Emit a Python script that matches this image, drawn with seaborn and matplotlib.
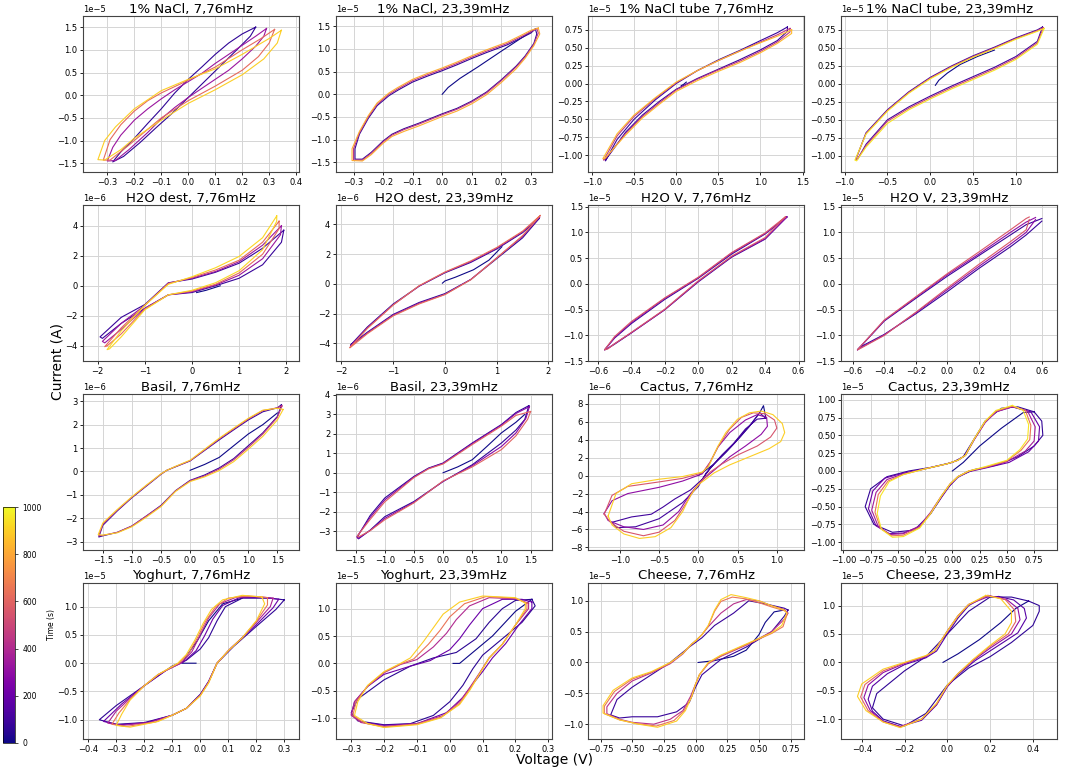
import numpy as np
import pandas as pd
import matplotlib
matplotlib.use("Agg")
import matplotlib.pyplot as plt
import seaborn as sns
from matplotlib.colors import Normalize

# ---------------------------------------------------------------
# Data: one closed loop per listed cycle.
# Current values are in the unit shown by the offset text (1e-5 / 1e-6 A).
# ---------------------------------------------------------------

# 1% NaCl, 7,76mHz
nacl_slow_t = [60, 330, 620, 900]
nacl_slow_v = [
    [0.25, 0.2, 0.15, 0.1, 0.05, 0.0, -0.05, -0.1, -0.15, -0.2, -0.25, -0.28, -0.24, -0.18, -0.12, -0.06, 0.0, 0.06, 0.12, 0.18, 0.23, 0.25],
    [0.29, 0.25, 0.2, 0.15, 0.1, 0.05, 0.0, -0.05, -0.1, -0.15, -0.2, -0.25, -0.28, -0.3, -0.27, -0.22, -0.15, -0.1, -0.05, 0.0, 0.05, 0.1, 0.15, 0.2, 0.25, 0.28, 0.29],
    [0.32, 0.27, 0.2, 0.1, 0.0, -0.1, -0.15, -0.2, -0.25, -0.29, -0.315, -0.29, -0.22, -0.15, -0.1, 0.0, 0.1, 0.2, 0.26, 0.3, 0.32],
    [0.345, 0.3, 0.2, 0.1, 0.0, -0.1, -0.2, -0.27, -0.31, -0.335, -0.31, -0.25, -0.2, -0.1, 0.0, 0.1, 0.2, 0.28, 0.33, 0.345],
]
nacl_slow_i = [
    [1.5, 1.35, 1.15, 0.9, 0.62, 0.35, 0.05, -0.3, -0.62, -0.95, -1.25, -1.47, -1.35, -1.05, -0.72, -0.4, -0.05, 0.3, 0.65, 1.0, 1.3, 1.5],
    [1.47, 1.3, 1.1, 0.9, 0.7, 0.48, 0.3, 0.12, -0.08, -0.3, -0.55, -0.88, -1.15, -1.45, -1.44, -1.2, -0.82, -0.52, -0.27, -0.05, 0.15, 0.35, 0.55, 0.8, 1.08, 1.3, 1.47],
    [1.45, 1.25, 1.0, 0.62, 0.33, 0.05, -0.12, -0.35, -0.65, -0.98, -1.43, -1.43, -1.1, -0.75, -0.5, -0.12, 0.2, 0.55, 0.85, 1.15, 1.45],
    [1.43, 1.25, 0.9, 0.58, 0.35, 0.1, -0.3, -0.7, -1.0, -1.42, -1.43, -1.2, -0.95, -0.55, -0.18, 0.12, 0.45, 0.8, 1.15, 1.43],
]
nacl_slow_ramp_v = []
nacl_slow_ramp_i = []

# 1% NaCl, 23,39mHz
nacl_fast_t = [60, 450, 820]
nacl_fast_v = [
    [0.315, 0.3, 0.27, 0.22, 0.15, 0.1, 0.05, 0.0, -0.05, -0.1, -0.15, -0.18, -0.22, -0.25, -0.28, -0.295, -0.295, -0.27, -0.24, -0.2, -0.17, -0.13, -0.08, 0.0, 0.05, 0.1, 0.15, 0.2, 0.25, 0.28, 0.31, 0.32, 0.315],
    [0.32, 0.3, 0.27, 0.22, 0.15, 0.1, 0.05, 0.0, -0.05, -0.1, -0.15, -0.18, -0.22, -0.25, -0.28, -0.3, -0.3, -0.27, -0.24, -0.2, -0.17, -0.13, -0.08, 0.0, 0.05, 0.1, 0.15, 0.2, 0.25, 0.28, 0.31, 0.325, 0.32],
    [0.325, 0.3, 0.27, 0.22, 0.15, 0.1, 0.05, 0.0, -0.05, -0.1, -0.15, -0.18, -0.22, -0.25, -0.28, -0.305, -0.305, -0.27, -0.24, -0.2, -0.17, -0.13, -0.08, 0.0, 0.05, 0.1, 0.15, 0.2, 0.25, 0.28, 0.31, 0.33, 0.325],
]
nacl_fast_i = [
    [1.44, 1.35, 1.25, 1.09, 0.92, 0.79, 0.65, 0.52, 0.4, 0.27, 0.09, -0.03, -0.25, -0.53, -0.88, -1.2, -1.43, -1.43, -1.28, -1.03, -0.88, -0.76, -0.64, -0.43, -0.31, -0.15, 0.05, 0.32, 0.62, 0.84, 1.12, 1.33, 1.44],
    [1.45, 1.38, 1.28, 1.12, 0.95, 0.82, 0.68, 0.55, 0.43, 0.3, 0.12, 0.0, -0.22, -0.5, -0.85, -1.2, -1.45, -1.45, -1.3, -1.05, -0.9, -0.78, -0.66, -0.45, -0.33, -0.17, 0.03, 0.3, 0.6, 0.82, 1.1, 1.35, 1.45],
    [1.46, 1.41, 1.31, 1.15, 0.98, 0.85, 0.71, 0.58, 0.46, 0.33, 0.15, 0.03, -0.19, -0.47, -0.82, -1.2, -1.46, -1.47, -1.33, -1.08, -0.93, -0.82, -0.7, -0.49, -0.37, -0.21, -0.01, 0.26, 0.56, 0.79, 1.07, 1.33, 1.46],
]
nacl_fast_ramp_v = [0.0, 0.02, 0.06, 0.12, 0.2, 0.27, 0.31]
nacl_fast_ramp_i = [0.0, 0.15, 0.35, 0.6, 0.95, 1.25, 1.42]

# 1% NaCl tube 7,76mHz
tube_slow_t = [80, 450, 850]
tube_slow_v = [
    [1.32, 1.2, 1.0, 0.75, 0.5, 0.25, 0.0, -0.25, -0.5, -0.7, -0.84, -0.82, -0.6, -0.4, -0.2, 0.0, 0.25, 0.5, 0.75, 1.0, 1.2, 1.32, 1.32],
    [1.35, 1.2, 1.0, 0.75, 0.5, 0.25, 0.0, -0.25, -0.5, -0.7, -0.86, -0.84, -0.6, -0.4, -0.2, 0.0, 0.25, 0.5, 0.75, 1.0, 1.2, 1.35, 1.35],
    [1.37, 1.2, 1.0, 0.75, 0.5, 0.25, 0.0, -0.25, -0.5, -0.7, -0.87, -0.85, -0.6, -0.4, -0.2, 0.0, 0.25, 0.5, 0.75, 1.0, 1.2, 1.37, 1.37],
]
tube_slow_i = [
    [0.79, 0.71, 0.6, 0.46, 0.33, 0.18, 0.0, -0.23, -0.5, -0.78, -1.08, -1.04, -0.68, -0.44, -0.25, -0.08, 0.07, 0.2, 0.33, 0.47, 0.6, 0.73, 0.79],
    [0.77, 0.68, 0.58, 0.45, 0.32, 0.18, 0.01, -0.21, -0.46, -0.73, -1.07, -1.05, -0.7, -0.46, -0.27, -0.09, 0.06, 0.19, 0.31, 0.45, 0.58, 0.72, 0.77],
    [0.75, 0.66, 0.57, 0.45, 0.32, 0.18, 0.02, -0.2, -0.44, -0.7, -1.05, -1.05, -0.72, -0.48, -0.29, -0.11, 0.04, 0.17, 0.29, 0.43, 0.56, 0.7, 0.75],
]
tube_slow_ramp_v = [0.06, 0.09, 0.12]
tube_slow_ramp_i = [-0.03, -0.01, 0.02]

# 1% NaCl tube, 23,39mHz
tube_fast_t = [100, 500, 950]
tube_fast_v = [
    [1.31, 1.25, 1.0, 0.75, 0.5, 0.25, 0.0, -0.25, -0.5, -0.75, -0.87, -0.85, -0.75, -0.5, -0.25, 0.0, 0.25, 0.5, 0.75, 1.0, 1.25, 1.31],
    [1.32, 1.25, 1.0, 0.75, 0.5, 0.25, 0.0, -0.25, -0.5, -0.75, -0.87, -0.86, -0.75, -0.5, -0.25, 0.0, 0.25, 0.5, 0.75, 1.0, 1.25, 1.32],
    [1.33, 1.25, 1.0, 0.75, 0.5, 0.25, 0.0, -0.25, -0.5, -0.75, -0.88, -0.86, -0.75, -0.5, -0.25, 0.0, 0.25, 0.5, 0.75, 1.0, 1.25, 1.33],
]
tube_fast_i = [
    [0.79, 0.75, 0.64, 0.51, 0.39, 0.25, 0.09, -0.11, -0.36, -0.68, -1.05, -1.05, -0.84, -0.5, -0.32, -0.17, -0.03, 0.1, 0.23, 0.38, 0.59, 0.79],
    [0.78, 0.74, 0.63, 0.5, 0.38, 0.24, 0.08, -0.12, -0.37, -0.69, -1.05, -1.06, -0.86, -0.52, -0.34, -0.19, -0.05, 0.08, 0.21, 0.36, 0.57, 0.78],
    [0.77, 0.73, 0.62, 0.49, 0.37, 0.23, 0.07, -0.13, -0.38, -0.7, -1.06, -1.07, -0.88, -0.55, -0.36, -0.21, -0.07, 0.06, 0.19, 0.34, 0.55, 0.77],
]
tube_fast_ramp_v = [0.06, 0.1, 0.2, 0.35, 0.55, 0.75]
tube_fast_ramp_i = [-0.02, 0.05, 0.15, 0.27, 0.38, 0.47]

# H2O dest, 7,76mHz
dest_slow_t = [80, 330, 620, 920]
dest_slow_v = [
    [1.95, 1.5, 1.0, 0.5, 0.0, -0.5, -1.0, -1.5, -1.95, -1.9, -1.5, -1.0, -0.5, 0.0, 0.5, 1.0, 1.5, 1.9, 1.95],
    [1.9, 1.5, 1.0, 0.5, 0.0, -0.5, -1.0, -1.5, -1.9, -1.85, -1.5, -1.0, -0.5, 0.0, 0.5, 1.0, 1.5, 1.88, 1.9],
    [1.85, 1.5, 1.0, 0.5, 0.0, -0.5, -1.0, -1.5, -1.85, -1.8, -1.5, -1.0, -0.5, 0.0, 0.5, 1.0, 1.5, 1.85, 1.85],
    [1.8, 1.5, 1.0, 0.5, 0.0, -0.5, -1.0, -1.5, -1.8, -1.75, -1.5, -1.0, -0.5, 0.0, 0.5, 1.0, 1.5, 1.8, 1.8],
]
dest_slow_i = [
    [3.7, 2.5, 1.5, 0.9, 0.45, 0.2, -1.25, -2.1, -3.4, -3.5, -2.5, -1.5, -0.6, -0.45, 0.0, 0.5, 1.4, 2.9, 3.7],
    [4.0, 2.7, 1.6, 0.95, 0.5, 0.18, -1.3, -2.5, -3.7, -3.8, -2.9, -1.5, -0.6, -0.4, 0.05, 0.7, 1.8, 3.4, 4.0],
    [4.3, 2.9, 1.7, 1.05, 0.55, 0.15, -1.3, -2.8, -4.05, -4.0, -3.2, -1.55, -0.6, -0.35, 0.1, 0.85, 2.1, 3.8, 4.3],
    [4.65, 3.2, 1.95, 1.2, 0.6, 0.1, -1.3, -3.0, -4.25, -4.2, -3.4, -1.6, -0.6, -0.3, 0.2, 1.0, 2.4, 4.3, 4.65],
]
dest_slow_ramp_v = [0.1, 0.3, 0.6]
dest_slow_ramp_i = [-0.45, -0.3, 0.0]

# H2O dest, 23,39mHz
dest_fast_t = [60, 330, 640]
dest_fast_v = [
    [1.82, 1.5, 1.0, 0.5, 0.0, -0.5, -1.0, -1.5, -1.82, -1.8, -1.5, -1.0, -0.5, 0.0, 0.5, 1.0, 1.5, 1.82],
    [1.83, 1.5, 1.0, 0.5, 0.0, -0.5, -1.0, -1.5, -1.83, -1.81, -1.5, -1.0, -0.5, 0.0, 0.5, 1.0, 1.5, 1.83],
    [1.84, 1.5, 1.0, 0.5, 0.0, -0.5, -1.0, -1.5, -1.84, -1.82, -1.5, -1.0, -0.5, 0.0, 0.5, 1.0, 1.5, 1.84],
]
dest_fast_i = [
    [4.4, 3.45, 2.35, 1.45, 0.75, -0.15, -1.35, -2.9, -4.1, -4.05, -3.25, -2.05, -1.25, -0.65, 0.3, 1.7, 3.1, 4.4],
    [4.5, 3.5, 2.4, 1.5, 0.78, -0.15, -1.4, -2.95, -4.2, -4.15, -3.3, -2.1, -1.3, -0.7, 0.3, 1.75, 3.2, 4.5],
    [4.6, 3.55, 2.45, 1.55, 0.8, -0.12, -1.42, -3.0, -4.3, -4.25, -3.35, -2.15, -1.35, -0.72, 0.28, 1.75, 3.25, 4.6],
]
dest_fast_ramp_v = [-0.05, 0.0, 0.2, 0.55, 0.85, 1.1]
dest_fast_ramp_i = [0.05, 0.2, 0.45, 0.95, 1.6, 2.5]

# H2O V, 7,76mHz
h2ov_slow_t = [80, 300, 560]
h2ov_slow_v = [
    [0.53, 0.4, 0.2, 0.0, -0.2, -0.4, -0.5, -0.56, -0.54, -0.5, -0.4, -0.2, 0.0, 0.2, 0.4, 0.53],
    [0.53, 0.4, 0.2, 0.0, -0.2, -0.4, -0.5, -0.56, -0.54, -0.5, -0.4, -0.2, 0.0, 0.2, 0.4, 0.53],
    [0.52, 0.4, 0.2, 0.0, -0.2, -0.4, -0.5, -0.56, -0.54, -0.5, -0.4, -0.2, 0.0, 0.2, 0.4, 0.52],
]
h2ov_slow_i = [
    [1.3, 0.97, 0.58, 0.11, -0.3, -0.77, -1.05, -1.28, -1.25, -1.17, -0.95, -0.5, 0.04, 0.52, 0.87, 1.3],
    [1.3, 0.98, 0.6, 0.12, -0.28, -0.75, -1.04, -1.28, -1.25, -1.16, -0.95, -0.5, 0.05, 0.53, 0.88, 1.3],
    [1.3, 0.99, 0.61, 0.13, -0.27, -0.73, -1.02, -1.28, -1.26, -1.16, -0.94, -0.49, 0.06, 0.54, 0.9, 1.3],
]
h2ov_slow_ramp_v = []
h2ov_slow_ramp_i = []

# H2O V, 23,39mHz
h2ov_fast_t = [80, 300, 560]
h2ov_fast_v = [
    [0.6, 0.5, 0.4, 0.2, 0.0, -0.2, -0.4, -0.57, -0.55, -0.4, -0.2, 0.0, 0.2, 0.4, 0.5, 0.6],
    [0.56, 0.5, 0.4, 0.2, 0.0, -0.2, -0.4, -0.57, -0.55, -0.4, -0.2, 0.0, 0.2, 0.4, 0.5, 0.56],
    [0.52, 0.5, 0.4, 0.2, 0.0, -0.2, -0.4, -0.57, -0.55, -0.4, -0.2, 0.0, 0.2, 0.4, 0.5, 0.52],
]
h2ov_fast_i = [
    [1.27, 1.15, 0.95, 0.55, 0.15, -0.28, -0.72, -1.28, -1.22, -0.98, -0.58, -0.15, 0.3, 0.72, 0.95, 1.22],
    [1.29, 1.2, 1.0, 0.58, 0.18, -0.26, -0.71, -1.28, -1.24, -0.99, -0.56, -0.11, 0.34, 0.77, 1.0, 1.25],
    [1.3, 1.27, 1.05, 0.62, 0.2, -0.25, -0.7, -1.28, -1.25, -1.0, -0.55, -0.08, 0.38, 0.82, 1.05, 1.25],
]
h2ov_fast_ramp_v = []
h2ov_fast_ramp_i = []

# Basil, 7,76mHz
basil_slow_t = [80, 450, 900]
basil_slow_v = [
    [1.57, 1.5, 1.25, 1.0, 0.75, 0.5, 0.25, 0.0, -0.25, -0.4, -0.5, -0.75, -1.0, -1.25, -1.5, -1.57, -1.5, -1.25, -1.0, -0.75, -0.5, -0.25, 0.0, 0.25, 0.5, 0.75, 1.0, 1.25, 1.5, 1.57],
    [1.58, 1.5, 1.25, 1.0, 0.75, 0.5, 0.25, 0.0, -0.25, -0.4, -0.5, -0.75, -1.0, -1.25, -1.5, -1.57, -1.5, -1.25, -1.0, -0.75, -0.5, -0.25, 0.0, 0.25, 0.5, 0.75, 1.0, 1.25, 1.5, 1.58],
    [1.6, 1.5, 1.25, 1.0, 0.75, 0.5, 0.25, 0.0, -0.25, -0.4, -0.5, -0.75, -1.0, -1.25, -1.5, -1.58, -1.5, -1.25, -1.0, -0.75, -0.5, -0.25, 0.0, 0.25, 0.5, 0.75, 1.0, 1.25, 1.5, 1.6],
]
basil_slow_i = [
    [2.85, 2.72, 2.55, 2.2, 1.78, 1.35, 0.9, 0.45, 0.2, 0.05, -0.12, -0.62, -1.12, -1.68, -2.3, -2.8, -2.75, -2.6, -2.33, -1.9, -1.45, -0.82, -0.38, -0.15, 0.15, 0.55, 1.1, 1.65, 2.35, 2.85],
    [2.8, 2.72, 2.6, 2.24, 1.82, 1.39, 0.92, 0.46, 0.21, 0.05, -0.11, -0.6, -1.1, -1.65, -2.25, -2.75, -2.73, -2.6, -2.33, -1.9, -1.47, -0.83, -0.4, -0.19, 0.1, 0.5, 1.03, 1.6, 2.31, 2.8],
    [2.65, 2.7, 2.62, 2.27, 1.85, 1.42, 0.95, 0.48, 0.22, 0.05, -0.1, -0.58, -1.08, -1.62, -2.2, -2.7, -2.72, -2.62, -2.36, -1.95, -1.5, -0.85, -0.43, -0.23, 0.04, 0.42, 0.95, 1.5, 2.2, 2.65],
]
basil_slow_ramp_v = [0.0, 0.25, 0.5, 0.75, 1.0, 1.25, 1.5]
basil_slow_ramp_i = [0.05, 0.3, 0.6, 1.1, 1.6, 2.0, 2.5]

# Basil, 23,39mHz
basil_fast_t = [60, 280, 600]
basil_fast_v = [
    [1.47, 1.25, 1.0, 0.5, 0.0, -0.25, -0.5, -1.0, -1.25, -1.47, -1.45, -1.25, -1.0, -0.5, 0.0, 0.5, 1.0, 1.25, 1.4, 1.47],
    [1.48, 1.25, 1.0, 0.5, 0.0, -0.25, -0.5, -1.0, -1.25, -1.48, -1.46, -1.25, -1.0, -0.5, 0.0, 0.5, 1.0, 1.25, 1.42, 1.48],
    [1.5, 1.25, 1.0, 0.5, 0.0, -0.25, -0.5, -1.0, -1.25, -1.47, -1.45, -1.25, -1.0, -0.5, 0.0, 0.5, 1.0, 1.25, 1.45, 1.5],
]
basil_fast_i = [
    [3.45, 3.1, 2.48, 1.53, 0.5, 0.24, -0.19, -1.3, -2.2, -3.3, -3.4, -2.95, -2.26, -1.48, -0.45, 0.41, 1.53, 2.2, 2.74, 3.45],
    [3.4, 3.05, 2.45, 1.5, 0.48, 0.22, -0.22, -1.4, -2.3, -3.3, -3.38, -2.97, -2.35, -1.52, -0.44, 0.36, 1.35, 2.05, 2.8, 3.4],
    [3.15, 2.95, 2.4, 1.45, 0.45, 0.2, -0.25, -1.5, -2.4, -3.25, -3.3, -2.98, -2.42, -1.55, -0.42, 0.3, 1.19, 1.9, 2.75, 3.15],
]
basil_fast_ramp_v = [0.0, 0.25, 0.5, 0.75, 1.0, 1.25, 1.4]
basil_fast_ramp_i = [0.0, 0.3, 0.67, 1.35, 2.05, 2.6, 3.0]

# Cactus, 7,76mHz
cactus_slow_t = [100, 300, 550, 900]
cactus_slow_v = [
    [0.86, 0.75, 0.6, 0.45, 0.3, 0.15, 0.05, -0.1, -0.3, -0.45, -0.6, -0.85, -1.1, -1.05, -0.8, -0.5, -0.2, 0.0, 0.1, 0.2, 0.35, 0.5, 0.65, 0.78, 0.86],
    [-1.2, -1.1, -0.9, -0.5, -0.2, 0.05, 0.15, 0.25, 0.4, 0.6, 0.75, 0.87, 0.88, 0.8, 0.6, 0.4, 0.2, 0.05, -0.1, -0.25, -0.45, -0.7, -0.95, -1.15, -1.2],
    [-1.2, -1.1, -0.9, -0.5, -0.2, 0.05, 0.15, 0.25, 0.4, 0.55, 0.7, 0.85, 0.97, 1.0, 0.92, 0.75, 0.5, 0.3, 0.15, 0.05, -0.05, -0.15, -0.3, -0.5, -0.7, -0.95, -1.12, -1.2],
    [-1.15, -1.05, -0.85, -0.5, -0.2, 0.05, 0.13, 0.18, 0.25, 0.35, 0.5, 0.65, 0.8, 0.95, 1.07, 1.1, 1.05, 0.9, 0.65, 0.4, 0.2, 0.08, 0.0, -0.1, -0.2, -0.35, -0.55, -0.75, -0.95, -1.1, -1.15],
]
cactus_slow_i = [
    [6.4, 6.3, 5.2, 3.6, 2.3, 0.8, -0.4, -1.6, -2.6, -3.5, -4.3, -4.6, -5.2, -5.8, -5.7, -4.8, -3.0, -1.2, 0.3, 1.3, 2.6, 4.0, 5.5, 7.0, 6.4],
    [-4.2, -2.8, -2.0, -1.3, -0.6, 0.2, 1.5, 3.2, 4.8, 6.2, 6.8, 6.5, 5.5, 4.6, 3.3, 2.1, 0.6, -0.5, -2.0, -4.0, -5.5, -6.0, -5.7, -5.0, -4.2],
    [-4.3, -2.2, -1.2, -0.7, -0.3, 0.3, 1.5, 3.2, 5.2, 6.5, 7.0, 6.9, 6.2, 5.3, 4.3, 3.3, 2.3, 1.3, 0.4, -0.5, -1.5, -3.0, -5.0, -6.3, -6.7, -6.2, -5.2, -4.3],
    [-4.5, -2.0, -0.9, -0.4, -0.1, 0.4, 1.0, 2.0, 3.3, 4.8, 6.3, 7.0, 7.2, 6.8, 5.8, 4.8, 3.8, 3.0, 2.1, 1.2, 0.3, -0.5, -1.0, -2.2, -4.0, -5.8, -6.8, -7.0, -6.5, -5.5, -4.5],
]
cactus_slow_ramp_v = [0.0, 0.2, 0.35, 0.5, 0.65, 0.78, 0.83, 0.86]
cactus_slow_ramp_i = [0.0, 1.3, 2.6, 4.0, 5.5, 7.0, 7.8, 6.4]

# Cactus, 23,39mHz
cactus_fast_t = [70, 200, 350, 650, 950]
cactus_fast_v = [
    [0.75, 0.82, 0.83, 0.75, 0.6, 0.4, 0.2, 0.05, -0.05, -0.2, -0.35, -0.55, -0.72, -0.8, -0.75, -0.6, -0.4, -0.2, 0.0, 0.1, 0.2, 0.3, 0.45, 0.6, 0.75],
    [0.55, 0.72, 0.8, 0.79, 0.7, 0.52, 0.3, 0.15, 0.05, -0.02, -0.1, -0.2, -0.3, -0.45, -0.58, -0.7, -0.77, -0.73, -0.62, -0.45, -0.25, -0.05, 0.05, 0.12, 0.2, 0.3, 0.4, 0.55],
    [0.55, 0.69, 0.76, 0.75, 0.67, 0.5, 0.3, 0.15, 0.05, -0.02, -0.1, -0.2, -0.3, -0.45, -0.57, -0.68, -0.74, -0.7, -0.6, -0.45, -0.25, -0.05, 0.05, 0.12, 0.2, 0.3, 0.4, 0.55],
    [0.55, 0.67, 0.72, 0.71, 0.63, 0.5, 0.3, 0.15, 0.05, -0.02, -0.1, -0.2, -0.3, -0.45, -0.56, -0.66, -0.71, -0.68, -0.59, -0.45, -0.25, -0.05, 0.05, 0.12, 0.2, 0.3, 0.4, 0.55],
    [0.55, 0.65, 0.7, 0.69, 0.62, 0.5, 0.3, 0.15, 0.05, -0.02, -0.1, -0.2, -0.3, -0.45, -0.55, -0.65, -0.69, -0.66, -0.58, -0.45, -0.25, -0.05, 0.05, 0.12, 0.2, 0.3, 0.4, 0.55],
]
cactus_fast_i = [
    [0.83, 0.7, 0.5, 0.35, 0.2, 0.08, 0.02, -0.08, -0.25, -0.6, -0.83, -0.86, -0.75, -0.5, -0.25, -0.08, 0.0, 0.05, 0.12, 0.2, 0.45, 0.7, 0.88, 0.9, 0.83],
    [0.9, 0.83, 0.62, 0.42, 0.27, 0.12, 0.04, -0.01, -0.09, -0.2, -0.37, -0.6, -0.78, -0.87, -0.88, -0.77, -0.53, -0.28, -0.1, -0.03, 0.03, 0.1, 0.15, 0.22, 0.44, 0.68, 0.83, 0.9],
    [0.9, 0.84, 0.62, 0.42, 0.28, 0.13, 0.05, 0.0, -0.08, -0.18, -0.35, -0.58, -0.77, -0.88, -0.89, -0.78, -0.55, -0.3, -0.12, -0.04, 0.03, 0.1, 0.15, 0.22, 0.44, 0.68, 0.83, 0.9],
    [0.91, 0.85, 0.64, 0.44, 0.29, 0.14, 0.05, 0.0, -0.08, -0.18, -0.35, -0.59, -0.79, -0.9, -0.91, -0.8, -0.58, -0.33, -0.14, -0.05, 0.03, 0.1, 0.15, 0.22, 0.45, 0.69, 0.84, 0.91],
    [0.92, 0.85, 0.65, 0.45, 0.3, 0.15, 0.06, 0.0, -0.08, -0.18, -0.35, -0.6, -0.8, -0.92, -0.93, -0.82, -0.6, -0.35, -0.15, -0.05, 0.03, 0.1, 0.15, 0.22, 0.45, 0.7, 0.85, 0.92],
]
cactus_fast_ramp_v = [0.0, 0.1, 0.25, 0.45, 0.65, 0.75]
cactus_fast_ramp_i = [0.0, 0.12, 0.35, 0.6, 0.82, 0.83]

# Yoghurt, 7,76mHz
yog_slow_t = [60, 200, 380, 650, 900]
yog_slow_v = [
    [0.3, 0.25, 0.15, 0.09, 0.06, 0.03, 0.0, -0.05, -0.1, -0.2, -0.3, -0.36, -0.3, -0.2, -0.1, -0.05, 0.0, 0.03, 0.06, 0.12, 0.2, 0.27, 0.3],
    [0.28, 0.23, 0.14, 0.08, 0.045, 0.015, -0.015, -0.06, -0.12, -0.2, -0.28, -0.345, -0.29, -0.19, -0.1, -0.05, 0.0, 0.03, 0.06, 0.11, 0.2, 0.26, 0.28],
    [0.26, 0.2, 0.13, 0.07, 0.03, 0.0, -0.03, -0.07, -0.15, -0.2, -0.25, -0.3, -0.33, -0.28, -0.18, -0.1, -0.05, 0.0, 0.03, 0.06, 0.1, 0.15, 0.2, 0.25, 0.26],
    [0.24, 0.17, 0.1, 0.055, 0.02, -0.01, -0.04, -0.075, -0.15, -0.2, -0.25, -0.29, -0.315, -0.265, -0.16, -0.1, -0.05, 0.0, 0.03, 0.06, 0.1, 0.15, 0.2, 0.24, 0.24],
    [0.22, 0.15, 0.08, 0.04, 0.01, -0.02, -0.05, -0.08, -0.15, -0.2, -0.25, -0.28, -0.3, -0.25, -0.15, -0.1, -0.05, 0.0, 0.03, 0.06, 0.1, 0.15, 0.2, 0.23, 0.22],
]
yog_slow_i = [
    [1.12, 1.15, 1.15, 1.0, 0.75, 0.45, 0.25, 0.05, -0.05, -0.4, -0.75, -1.0, -1.08, -1.05, -0.92, -0.8, -0.55, -0.32, 0.0, 0.3, 0.65, 0.95, 1.12],
    [1.13, 1.16, 1.16, 1.02, 0.78, 0.48, 0.22, 0.02, -0.12, -0.4, -0.72, -1.03, -1.09, -1.05, -0.92, -0.8, -0.56, -0.33, 0.0, 0.27, 0.68, 0.98, 1.13],
    [1.15, 1.18, 1.17, 1.05, 0.8, 0.5, 0.2, 0.0, -0.2, -0.4, -0.62, -0.85, -1.06, -1.1, -1.05, -0.92, -0.8, -0.57, -0.33, 0.0, 0.22, 0.45, 0.72, 1.0, 1.15],
    [1.16, 1.19, 1.15, 1.0, 0.75, 0.45, 0.18, 0.0, -0.2, -0.4, -0.64, -0.88, -1.08, -1.12, -1.04, -0.92, -0.8, -0.57, -0.34, 0.0, 0.22, 0.45, 0.74, 1.03, 1.16],
    [1.17, 1.2, 1.12, 0.95, 0.7, 0.4, 0.15, 0.0, -0.2, -0.4, -0.65, -0.9, -1.1, -1.13, -1.03, -0.92, -0.8, -0.58, -0.35, 0.0, 0.22, 0.45, 0.75, 1.05, 1.17],
]
yog_slow_ramp_v = [-0.015, -0.065, -0.05, -0.01, 0.03, 0.08, 0.15]
yog_slow_ramp_i = [0.0, 0.0, 0.12, 0.4, 0.75, 1.05, 1.15]

# Yoghurt, 23,39mHz
yog_fast_t = [50, 200, 400, 650, 900]
yog_fast_v = [
    [0.25, 0.26, 0.22, 0.15, 0.1, 0.07, 0.04, 0.0, -0.05, -0.12, -0.2, -0.28, -0.3, -0.28, -0.2, -0.12, -0.05, 0.02, 0.08, 0.12, 0.16, 0.2, 0.25],
    [0.25, 0.22, 0.16, 0.1, 0.06, 0.03, 0.0, -0.06, -0.12, -0.2, -0.25, -0.29, -0.3, -0.27, -0.2, -0.1, -0.01, 0.04, 0.07, 0.1, 0.13, 0.17, 0.21, 0.25, 0.25],
    [0.24, 0.2, 0.12, 0.06, 0.02, -0.01, -0.05, -0.1, -0.15, -0.2, -0.25, -0.29, -0.3, -0.27, -0.2, -0.1, -0.02, 0.03, 0.06, 0.09, 0.12, 0.16, 0.2, 0.24, 0.24],
    [0.235, 0.2, 0.11, 0.045, 0.0, -0.03, -0.065, -0.11, -0.15, -0.2, -0.25, -0.285, -0.295, -0.26, -0.2, -0.1, -0.025, 0.03, 0.06, 0.09, 0.12, 0.16, 0.2, 0.235, 0.235],
    [0.23, 0.2, 0.1, 0.03, -0.02, -0.05, -0.08, -0.12, -0.15, -0.2, -0.25, -0.28, -0.29, -0.25, -0.2, -0.1, -0.03, 0.03, 0.06, 0.09, 0.12, 0.16, 0.2, 0.23, 0.23],
]
yog_fast_i = [
    [1.17, 1.05, 0.75, 0.4, 0.15, -0.1, -0.4, -0.7, -0.95, -1.1, -1.12, -1.05, -0.9, -0.65, -0.3, -0.05, 0.1, 0.2, 0.45, 0.75, 1.0, 1.15, 1.17],
    [1.12, 1.17, 1.17, 1.0, 0.7, 0.45, 0.25, 0.05, -0.05, -0.2, -0.42, -0.7, -0.93, -1.07, -1.13, -1.1, -0.9, -0.62, -0.38, -0.15, 0.1, 0.36, 0.7, 1.0, 1.12],
    [1.1, 1.18, 1.2, 1.05, 0.8, 0.55, 0.3, 0.07, -0.02, -0.17, -0.42, -0.7, -0.95, -1.08, -1.15, -1.1, -0.95, -0.7, -0.45, -0.18, 0.1, 0.35, 0.7, 1.0, 1.1],
    [1.1, 1.19, 1.22, 1.09, 0.85, 0.6, 0.35, 0.08, -0.01, -0.16, -0.41, -0.7, -0.95, -1.09, -1.16, -1.11, -0.98, -0.73, -0.48, -0.19, 0.1, 0.35, 0.7, 1.0, 1.1],
    [1.1, 1.2, 1.23, 1.12, 0.9, 0.65, 0.4, 0.1, 0.0, -0.15, -0.4, -0.7, -0.95, -1.1, -1.17, -1.12, -1.0, -0.75, -0.5, -0.2, 0.1, 0.35, 0.7, 1.0, 1.1],
]
yog_fast_ramp_v = [0.01, 0.03, 0.08, 0.13, 0.2, 0.25]
yog_fast_ramp_i = [0.0, 0.0, 0.25, 0.5, 0.95, 1.17]

# Cheese, 7,76mHz
cheese_slow_t = [80, 420, 650, 900]
cheese_slow_v = [
    [0.73, 0.7, 0.6, 0.4, 0.2, 0.05, 0.0, -0.05, -0.15, -0.3, -0.5, -0.6, -0.67, -0.62, -0.5, -0.35, -0.2, -0.05, 0.05, 0.15, 0.3, 0.42, 0.55, 0.7, 0.73],
    [0.0, 0.05, 0.1, 0.2, 0.3, 0.4, 0.5, 0.6, 0.7, 0.73, 0.7, 0.6, 0.4, 0.2, 0.1, 0.03, 0.0, -0.04, -0.1, -0.2, -0.33, -0.5, -0.6, -0.7, -0.7, -0.62, -0.5, -0.35, -0.2, -0.1, -0.03, 0.0],
    [0.0, 0.05, 0.1, 0.15, 0.2, 0.29, 0.4, 0.5, 0.6, 0.7, 0.725, 0.69, 0.6, 0.4, 0.2, 0.1, 0.03, 0.0, -0.03, -0.09, -0.17, -0.31, -0.47, -0.6, -0.72, -0.72, -0.64, -0.5, -0.35, -0.2, -0.1, -0.03, 0.0],
    [0.0, 0.05, 0.1, 0.15, 0.2, 0.28, 0.4, 0.5, 0.6, 0.7, 0.72, 0.68, 0.6, 0.4, 0.2, 0.1, 0.03, 0.0, -0.03, -0.08, -0.15, -0.3, -0.45, -0.6, -0.73, -0.73, -0.65, -0.5, -0.35, -0.2, -0.1, -0.03, 0.0],
]
cheese_slow_i = [
    [0.85, 0.75, 0.5, 0.25, 0.05, -0.2, -0.4, -0.65, -0.8, -0.88, -0.88, -0.9, -0.85, -0.6, -0.4, -0.2, 0.0, 0.25, 0.4, 0.6, 0.8, 1.0, 0.95, 0.88, 0.85],
    [0.35, 0.45, 0.58, 0.8, 0.95, 1.02, 1.0, 0.92, 0.86, 0.8, 0.7, 0.5, 0.28, 0.1, -0.02, -0.2, -0.35, -0.55, -0.78, -0.92, -1.0, -0.97, -0.92, -0.83, -0.72, -0.5, -0.3, -0.17, -0.02, 0.14, 0.3, 0.35],
    [0.35, 0.45, 0.59, 0.83, 0.99, 1.06, 1.03, 0.97, 0.9, 0.84, 0.8, 0.58, 0.47, 0.29, 0.11, -0.01, -0.2, -0.35, -0.55, -0.78, -0.94, -1.03, -0.99, -0.93, -0.83, -0.71, -0.47, -0.27, -0.16, -0.01, 0.15, 0.3, 0.35],
    [0.35, 0.45, 0.6, 0.85, 1.02, 1.1, 1.05, 1.0, 0.92, 0.85, 0.8, 0.6, 0.48, 0.3, 0.12, 0.0, -0.2, -0.35, -0.55, -0.78, -0.95, -1.05, -1.0, -0.93, -0.82, -0.7, -0.45, -0.25, -0.15, 0.0, 0.15, 0.3, 0.35],
]
cheese_slow_ramp_v = [0.02, 0.15, 0.3, 0.4, 0.5, 0.55, 0.62, 0.7]
cheese_slow_ramp_i = [0.0, 0.03, 0.1, 0.2, 0.45, 0.65, 0.82, 0.85]

# Cheese, 23,39mHz
cheese_fast_t = [60, 150, 300, 600, 900]
cheese_fast_v = [
    [0.38, 0.43, 0.43, 0.4, 0.3, 0.2, 0.1, 0.0, -0.1, -0.2, -0.3, -0.35, -0.33, -0.2, -0.1, 0.0, 0.1, 0.2, 0.3, 0.38],
    [0.24, 0.31, 0.36, 0.37, 0.33, 0.22, 0.13, 0.05, 0.0, -0.05, -0.12, -0.22, -0.3, -0.35, -0.37, -0.35, -0.28, -0.2, -0.1, -0.05, 0.0, 0.05, 0.1, 0.17, 0.24],
    [0.2, 0.28, 0.33, 0.34, 0.3, 0.2, 0.12, 0.05, 0.0, -0.05, -0.12, -0.22, -0.3, -0.36, -0.39, -0.37, -0.3, -0.2, -0.1, -0.06, 0.0, 0.05, 0.1, 0.2],
    [0.19, 0.27, 0.315, 0.32, 0.285, 0.2, 0.12, 0.05, 0.0, -0.05, -0.12, -0.22, -0.3, -0.37, -0.405, -0.385, -0.3, -0.2, -0.1, -0.06, 0.0, 0.05, 0.1, 0.19],
    [0.18, 0.25, 0.3, 0.3, 0.27, 0.2, 0.12, 0.05, 0.0, -0.05, -0.12, -0.22, -0.3, -0.38, -0.42, -0.4, -0.3, -0.2, -0.1, -0.06, 0.0, 0.05, 0.1, 0.18],
]
cheese_fast_i = [
    [1.08, 1.0, 0.9, 0.65, 0.35, 0.1, -0.1, -0.4, -0.9, -1.12, -1.0, -0.8, -0.55, -0.15, 0.1, 0.5, 0.9, 1.15, 1.15, 1.08],
    [1.16, 1.1, 0.95, 0.78, 0.52, 0.25, 0.03, -0.22, -0.43, -0.75, -1.02, -1.13, -1.03, -0.86, -0.65, -0.42, -0.2, -0.04, 0.08, 0.2, 0.5, 0.78, 1.0, 1.15, 1.16],
    [1.17, 1.1, 0.95, 0.75, 0.5, 0.25, 0.03, -0.2, -0.42, -0.74, -1.0, -1.13, -1.04, -0.85, -0.62, -0.4, -0.18, -0.02, 0.1, 0.2, 0.55, 0.82, 1.02, 1.17],
    [1.18, 1.11, 0.92, 0.72, 0.5, 0.28, 0.04, -0.2, -0.41, -0.73, -1.0, -1.14, -1.05, -0.85, -0.61, -0.39, -0.15, -0.01, 0.11, 0.2, 0.55, 0.82, 1.02, 1.18],
    [1.18, 1.12, 0.9, 0.7, 0.5, 0.3, 0.05, -0.2, -0.4, -0.72, -1.0, -1.15, -1.05, -0.85, -0.6, -0.38, -0.12, 0.0, 0.12, 0.2, 0.55, 0.82, 1.02, 1.18],
]
cheese_fast_ramp_v = [-0.02, 0.05, 0.15, 0.25, 0.32, 0.38]
cheese_fast_ramp_i = [0.0, 0.15, 0.4, 0.7, 0.95, 1.08]

titles = [
    "1% NaCl, 7,76mHz", "1% NaCl, 23,39mHz", "1% NaCl tube 7,76mHz", "1% NaCl tube, 23,39mHz",
    "H2O dest, 7,76mHz", "H2O dest, 23,39mHz", "H2O V, 7,76mHz", "H2O V, 23,39mHz",
    "Basil, 7,76mHz", "Basil, 23,39mHz", "Cactus, 7,76mHz", "Cactus, 23,39mHz",
    "Yoghurt, 7,76mHz", "Yoghurt, 23,39mHz", "Cheese, 7,76mHz", "Cheese, 23,39mHz",
]
current_units = [1e-5, 1e-5, 1e-5, 1e-5, 1e-6, 1e-6, 1e-5, 1e-5,
                 1e-6, 1e-6, 1e-6, 1e-5, 1e-5, 1e-5, 1e-5, 1e-5]

# axis ranges as seen on each panel (current in the offset unit)
x_ranges = [(-0.39, 0.41), (-0.36, 0.37), (-1.04, 1.52), (-1.04, 1.48),
            (-2.31, 2.27), (-2.11, 2.06), (-0.656, 0.634), (-0.673, 0.696),
            (-1.84, 1.87), (-1.84, 1.86), (-1.40, 1.35), (-1.02, 0.96),
            (-0.418, 0.352), (-0.347, 0.31), (-0.845, 0.858), (-0.496, 0.513)]
y_ranges = [(-1.70, 1.74), (-1.72, 1.72), (-1.24, 0.94), (-1.23, 0.94),
            (-5.02, 5.37), (-5.2, 5.3), (-1.5, 1.53), (-1.5, 1.53),
            (-3.36, 3.31), (-3.98, 4.05), (-8.3, 9.1), (-1.11, 1.08),
            (-1.34, 1.42), (-1.38, 1.47), (-1.24, 1.29), (-1.35, 1.40)]

loops = [
    (nacl_slow_t, nacl_slow_v, nacl_slow_i, nacl_slow_ramp_v, nacl_slow_ramp_i),
    (nacl_fast_t, nacl_fast_v, nacl_fast_i, nacl_fast_ramp_v, nacl_fast_ramp_i),
    (tube_slow_t, tube_slow_v, tube_slow_i, tube_slow_ramp_v, tube_slow_ramp_i),
    (tube_fast_t, tube_fast_v, tube_fast_i, tube_fast_ramp_v, tube_fast_ramp_i),
    (dest_slow_t, dest_slow_v, dest_slow_i, dest_slow_ramp_v, dest_slow_ramp_i),
    (dest_fast_t, dest_fast_v, dest_fast_i, dest_fast_ramp_v, dest_fast_ramp_i),
    (h2ov_slow_t, h2ov_slow_v, h2ov_slow_i, h2ov_slow_ramp_v, h2ov_slow_ramp_i),
    (h2ov_fast_t, h2ov_fast_v, h2ov_fast_i, h2ov_fast_ramp_v, h2ov_fast_ramp_i),
    (basil_slow_t, basil_slow_v, basil_slow_i, basil_slow_ramp_v, basil_slow_ramp_i),
    (basil_fast_t, basil_fast_v, basil_fast_i, basil_fast_ramp_v, basil_fast_ramp_i),
    (cactus_slow_t, cactus_slow_v, cactus_slow_i, cactus_slow_ramp_v, cactus_slow_ramp_i),
    (cactus_fast_t, cactus_fast_v, cactus_fast_i, cactus_fast_ramp_v, cactus_fast_ramp_i),
    (yog_slow_t, yog_slow_v, yog_slow_i, yog_slow_ramp_v, yog_slow_ramp_i),
    (yog_fast_t, yog_fast_v, yog_fast_i, yog_fast_ramp_v, yog_fast_ramp_i),
    (cheese_slow_t, cheese_slow_v, cheese_slow_i, cheese_slow_ramp_v, cheese_slow_ramp_i),
    (cheese_fast_t, cheese_fast_v, cheese_fast_i, cheese_fast_ramp_v, cheese_fast_ramp_i),
]

# ---------------------------------------------------------------
# Figure
# ---------------------------------------------------------------
fig, axes = plt.subplots(4, 4, figsize=(10.65, 7.73), dpi=100)
fig.subplots_adjust(left=0.078, right=0.9925, top=0.979, bottom=0.044, wspace=0.171, hspace=0.21)

for n, ax in enumerate(axes.flat):
    times, volts, amps, ramp_v, ramp_i = loops[n]
    unit = current_units[n]
    parts = []
    if ramp_v:
        parts.append(pd.DataFrame({"V": ramp_v, "I": np.array(ramp_i) * unit, "t": 0, "cyc": -1}))
    for k, (t, v, i) in enumerate(zip(times, volts, amps)):
        parts.append(pd.DataFrame({"V": v, "I": np.array(i) * unit, "t": t, "cyc": k}))
    df = pd.concat(parts, ignore_index=True)

    sns.lineplot(data=df, x="V", y="I", hue="t", units="cyc", estimator=None, sort=False,
                 palette="plasma", hue_norm=(0, 1000), legend=False, linewidth=0.8, ax=ax)

    ax.set_xlim(*x_ranges[n])
    ax.set_ylim(y_ranges[n][0] * unit, y_ranges[n][1] * unit)
    ax.set_title(titles[n], fontsize=9.5, pad=2.5)
    ax.set_xlabel("")
    ax.set_ylabel("")
    ax.grid(True, color="#d5d5d5", linewidth=0.7)
    ax.set_axisbelow(True)
    ax.tick_params(labelsize=6, length=2.5, width=0.6, pad=1.5)
    ax.yaxis.get_offset_text().set_fontsize(6)
    for sp in ax.spines.values():
        sp.set_color("#444444")
        sp.set_linewidth(0.8)

fig.text(0.054, 0.532, "Current (A)", rotation=90, ha="center", va="center", fontsize=10)
fig.text(0.521, 0.017, "Voltage (V)", ha="center", va="center", fontsize=10)

# colour bar for time
cax = fig.add_axes([0.003, 0.039, 0.011, 0.305])
sm = plt.cm.ScalarMappable(norm=Normalize(0, 1000), cmap="plasma")
cb = fig.colorbar(sm, cax=cax)
cb.set_label("Time (s)", fontsize=5.5)
cb.ax.tick_params(labelsize=5.5, length=2, width=0.5)
cb.outline.set_linewidth(0.5)

fig.savefig("out.png", dpi=100)
